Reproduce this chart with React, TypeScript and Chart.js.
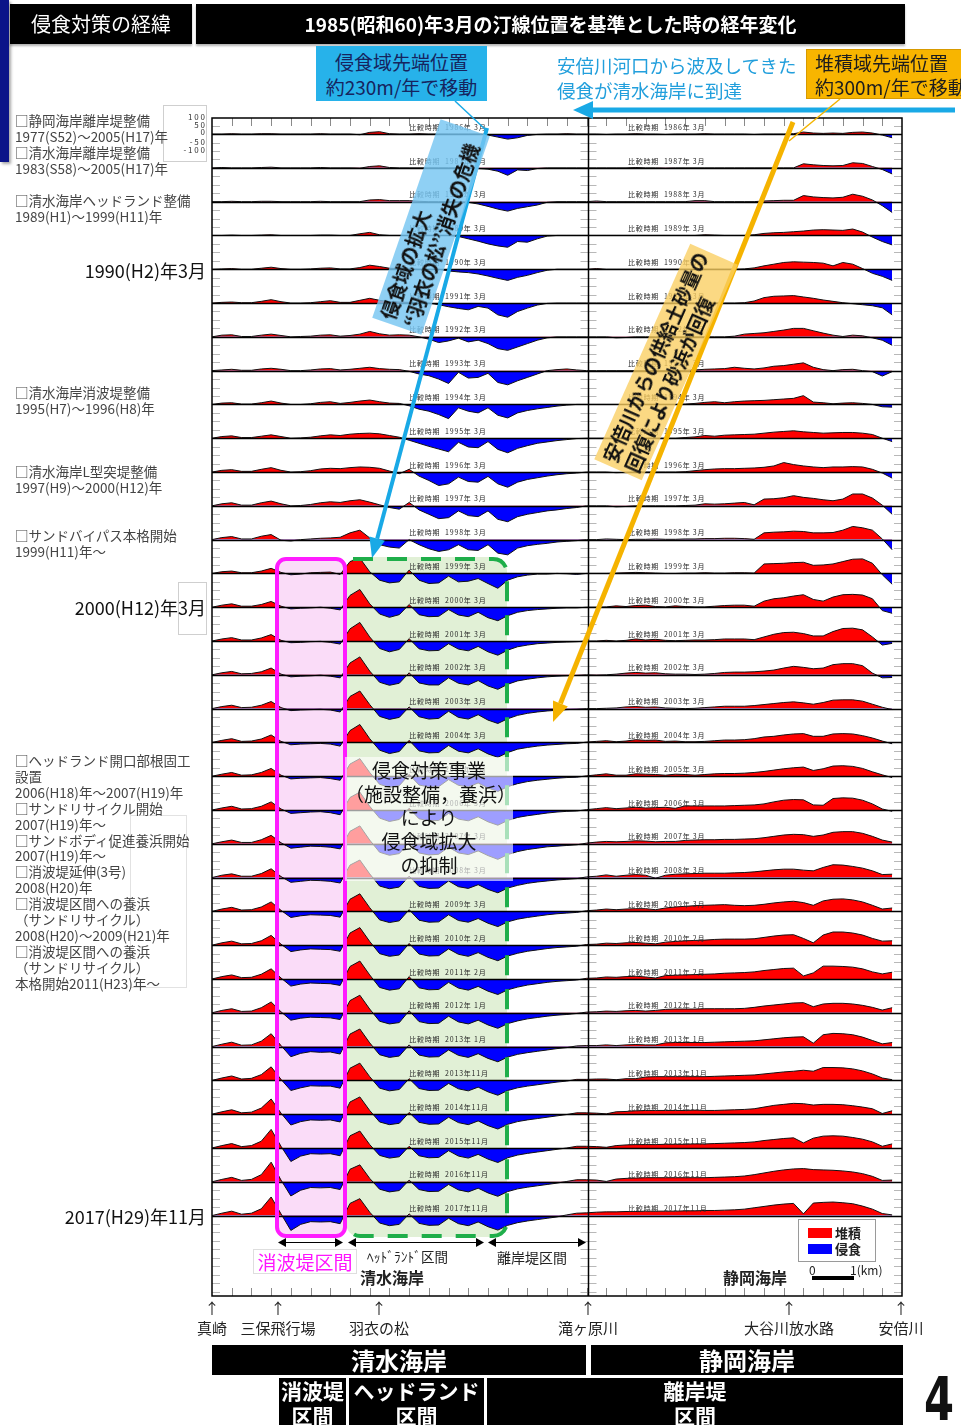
import React, { useEffect, useRef } from 'react';
import { Chart, registerables } from 'chart.js';

Chart.register(...registerables);

// ---------- axis grid (distance index along the coast, 1 tick = 1 unit) ----------
const xShimizu = [0,0.5,1,1.5,2,2.5,3,3.5,4,4.5,5,5.5,6,6.5,7,7.5,8,8.5,9,9.5,10,10.5,11,11.5,12,12.5,13,13.5,14,14.5,15,15.5,16,16.5,17,17.5,18,18.5];
const xShizuoka = [19,19.5,20,20.5,21,21.5,22,22.5,23,23.5,24,24.5,25,25.5,26,26.5,27,27.5,28,28.5,29,29.5,30,30.5,31,31.5,32,32.5,33,33.5,34,34.5];

const compareDates = ['1986年 3月','1987年 3月','1988年 3月','1989年 3月','1990年 3月','1991年 3月','1992年 3月','1993年 3月','1994年 3月','1995年 3月','1996年 3月','1997年 3月','1998年 3月','1999年 3月','2000年 3月','2001年 3月','2002年 3月','2003年 3月','2004年 3月','2005年 3月','2006年 3月','2007年 3月','2008年 3月','2009年 3月','2010年 2月','2011年 2月','2012年 1月','2013年 1月','2013年11月','2014年11月','2015年11月','2016年11月','2017年11月'];

// ---------- shoreline change (m) : Shimizu coast ----------
const s1986 = [0,0,2,0,0,2,2,0,0,0,0,2,0,0,0,-4,10,14,2,0,0,2,0,0,0,0,0,0,-6,-18,-30,-22,-8,-2,0,0,2,0];
const s1987 = [0,2,0,0,0,2,4,0,0,0,0,2,0,0,0,-2,8,12,2,0,0,0,0,0,0,0,0,-4,-8,-20,-44,-12,-16,-4,0,0,0,0];
const s1988 = [0,0,2,0,0,2,2,0,0,0,0,2,0,0,0,0,10,12,6,6,6,2,0,0,0,0,-4,-14,-28,-44,-56,-40,-30,-20,-4,0,0,0];
const s1989 = [0,0,2,0,0,2,4,0,0,0,0,2,2,0,0,10,18,4,0,0,0,0,0,0,0,-6,-20,-34,-50,-62,-70,-36,-40,-20,-4,0,0,0];
const s1990 = [0,2,4,0,0,6,12,4,0,0,2,6,8,2,2,10,24,16,6,4,2,0,0,0,-10,-16,-20,-28,-40,-54,-66,-48,-36,-20,-6,0,0,0];
const s1991 = [0,4,6,2,2,10,20,8,0,0,2,8,14,4,4,16,28,16,8,6,4,0,0,-10,-22,-32,-40,-20,-30,-70,-84,-50,-30,-12,-2,0,0,0];
const s1992 = [0,10,12,2,2,10,16,8,0,2,4,10,12,4,8,16,32,18,10,12,10,0,-14,-34,-24,-8,-30,-20,-40,-70,-80,-60,-40,-20,-6,0,0,0];
const s1993 = [0,4,8,2,2,10,14,8,0,0,4,10,12,4,8,14,20,12,8,6,-4,-20,-30,-50,-76,-10,-44,-40,-16,-70,-84,-60,-40,-20,0,6,10,4];
const s1994 = [0,8,10,2,2,10,20,8,0,0,4,12,16,6,12,20,26,16,8,6,-8,-28,-40,-60,-84,-20,-40,-50,-20,-64,-80,-50,-36,-26,-18,-10,-4,0];
const s1995 = [0,10,14,4,4,12,20,10,0,2,6,14,20,16,24,28,30,26,16,6,-12,-30,-48,-64,-80,-24,-52,-56,-20,-66,-86,-60,-44,-30,-22,-14,-8,-2];
const s1996 = [0,10,14,4,4,16,26,10,0,2,8,18,22,20,26,30,28,22,6,-10,16,-24,-50,-80,-70,-30,-56,-60,-26,-70,-90,-60,-44,-34,-24,-16,-10,-6];
const s1997 = [0,12,18,4,4,18,28,12,0,2,8,18,24,20,30,36,22,6,-10,-20,20,-24,-50,-76,-70,-30,-58,-64,-30,-80,-94,-64,-50,-40,-30,-24,-16,-10];
const s1998 = [0,12,18,4,4,20,30,-4,-8,0,4,8,10,14,40,56,10,-30,-44,-50,0,-30,-54,-70,-60,-30,-60,-64,-30,-80,-90,-50,-36,-28,-22,-14,-10,-6];
const s1999 = [0,10,14,4,4,14,30,6,-8,-4,4,6,8,-6,70,90,10,-40,-56,-50,20,-40,-60,-56,-16,-50,-46,-30,-60,-88,-40,-20,-10,-4,-4,0,-2,-6];
const s2000 = [0,12,20,6,6,16,34,6,-10,-6,-4,0,-6,-16,70,105,20,-40,-60,-44,16,-44,-56,-54,-14,-46,-56,-30,-62,-80,-50,-30,-20,-14,-10,-6,-4,-4];
const s2001 = [0,12,20,6,6,18,38,4,-10,-8,-4,-2,-8,-18,72,110,24,-44,-64,-50,14,-46,-58,-56,-16,-48,-58,-32,-64,-84,-54,-34,-24,-16,-12,-8,-6,-4];
const s2002 = [0,12,20,6,8,18,40,4,-12,-8,-6,-2,-8,-18,70,106,22,-44,-62,-50,12,-48,-60,-60,-18,-50,-60,-34,-66,-86,-56,-36,-26,-18,-12,-8,-6,-4];
const s2003 = [0,12,20,6,8,20,42,6,-12,-8,-6,-4,-8,-20,72,104,24,-46,-64,-52,10,-48,-62,-58,-16,-52,-62,-36,-68,-88,-60,-40,-28,-20,-14,-10,-6,-4];
const s2004 = [0,12,22,6,8,20,44,6,-14,-10,-8,-6,-10,-22,70,106,22,-46,-66,-54,12,-50,-62,-60,-18,-52,-62,-38,-68,-88,-60,-40,-30,-22,-16,-12,-8,-6];
const s2005 = [0,12,22,6,8,22,46,6,-16,-12,-10,-8,-14,-24,72,104,22,-48,-66,-56,10,-52,-64,-62,-20,-54,-64,-40,-70,-90,-62,-44,-32,-24,-18,-12,-8,-6];
const s2006 = [0,12,22,6,8,22,48,6,-20,-16,-12,-10,-16,-28,74,106,22,-48,-68,-56,10,-52,-64,-62,-20,-54,-64,-40,-70,-90,-62,-44,-34,-26,-18,-12,-8,-6];
const s2007 = [0,12,22,8,8,24,50,6,-26,-20,-14,-16,-20,-30,74,106,22,-50,-68,-58,8,-54,-66,-62,-20,-54,-64,-42,-70,-92,-64,-46,-34,-26,-18,-14,-10,-6];
const s2008 = [0,14,22,8,8,24,52,6,-28,-22,-16,-18,-22,-32,74,104,22,-50,-66,-56,8,-52,-64,-62,-20,-54,-64,-42,-70,-90,-62,-46,-34,-26,-20,-14,-10,-6];
const s2009 = [0,14,24,8,10,26,56,6,-36,-26,-20,-22,-24,-34,72,104,22,-50,-66,-56,10,-52,-64,-62,-20,-54,-64,-42,-70,-90,-62,-46,-36,-28,-20,-14,-10,-6];
const s2010 = [0,14,24,8,10,26,58,6,-38,-28,-22,-24,-26,-36,72,104,22,-50,-66,-58,10,-52,-64,-62,-22,-54,-66,-44,-72,-92,-64,-48,-36,-28,-20,-14,-10,-6];
const s2011 = [0,14,24,8,10,28,60,6,-42,-30,-24,-26,-28,-38,74,106,24,-50,-66,-58,14,-52,-64,-62,-20,-54,-66,-44,-72,-92,-64,-48,-36,-28,-20,-14,-10,-6];
const s2012 = [0,14,24,8,10,30,64,6,-44,-32,-26,-28,-30,-40,72,104,22,-50,-66,-58,12,-52,-64,-62,-20,-54,-66,-44,-72,-92,-64,-48,-36,-28,-20,-14,-10,-4];
const s2013a = [0,14,26,8,10,32,76,6,-60,-40,-30,-34,-32,-44,74,104,22,-48,-64,-56,10,-50,-62,-60,-20,-52,-64,-42,-70,-90,-62,-46,-36,-28,-20,-12,-6,4];
const s2013b = [0,14,26,8,12,34,80,6,-60,-44,-32,-34,-34,-46,72,102,22,-46,-62,-54,10,-48,-60,-58,-18,-50,-62,-40,-68,-88,-60,-44,-34,-26,-18,-10,-4,6];
const s2014 = [0,14,26,8,12,36,90,6,-64,-44,-34,-36,-34,-46,72,102,22,-46,-62,-54,10,-48,-60,-58,-18,-50,-62,-40,-68,-88,-60,-44,-34,-26,-18,-10,-2,8];
const s2015 = [0,14,26,8,14,40,110,10,-80,-48,-34,-36,-34,-46,72,100,20,-44,-60,-52,10,-46,-58,-56,-16,-48,-60,-38,-66,-86,-58,-42,-32,-24,-16,-8,0,10];
const s2016 = [0,14,26,8,14,42,116,10,-84,-50,-34,-36,-34,-46,74,100,20,-44,-60,-52,10,-46,-58,-56,-16,-48,-60,-38,-66,-86,-58,-42,-32,-24,-16,-8,2,12];
const s2017 = [0,14,26,8,14,40,110,10,-88,-52,-36,-38,-36,-48,72,100,20,-44,-60,-52,10,-46,-58,-56,-16,-48,-60,-38,-66,-86,-58,-42,-32,-24,-16,-8,4,14];

// ---------- shoreline change (m) : Shizuoka coast ----------
const z1986 = [0,0,-2,0,0,2,0,0,-2,0,0,0,2,0,0,0,0,-2,0,0,0,2,12,6,4,6,4,10,12,6,-6,-22];
const z1987 = [0,0,0,0,0,2,0,0,-2,0,0,0,0,0,0,0,0,0,0,0,0,0,24,18,14,12,14,30,26,8,-10,-36];
const z1988 = [0,4,0,0,0,0,0,0,0,0,0,6,6,0,0,0,0,0,4,6,8,8,36,28,24,22,26,44,32,10,-24,-64];
const z1989 = [0,0,0,0,0,0,0,0,0,0,0,0,4,2,0,0,0,4,12,16,18,22,26,32,34,32,30,38,20,-10,-36,-56];
const z1990 = [0,4,0,0,0,0,0,0,0,0,0,0,0,0,0,0,2,8,20,30,40,44,42,40,36,20,40,30,4,-24,-42,-66];
const z1991 = [0,0,0,0,0,0,0,0,0,0,0,0,0,0,0,0,2,12,32,40,42,44,36,28,18,10,2,-4,-10,-16,-28,-70];
const z1992 = [0,0,0,-6,-4,0,0,0,0,0,0,0,0,0,0,4,16,20,24,32,40,50,50,36,22,10,2,10,6,-6,-20,-50];
const z1993 = [0,0,0,0,0,0,0,0,0,0,2,4,8,10,12,20,14,10,16,26,30,38,46,20,6,0,6,8,0,-6,-32,-6];
const z1994 = [0,0,0,0,0,0,0,0,0,0,2,6,12,16,10,16,20,22,24,28,32,36,52,14,10,4,8,10,6,0,-14,-16];
const z1995 = [0,0,0,0,0,0,0,0,0,0,4,8,16,12,18,20,22,24,30,36,40,44,38,34,30,32,34,34,30,22,0,-20];
const z1996 = [0,0,0,-4,-2,0,0,0,0,0,2,8,14,18,20,20,22,24,28,36,56,44,36,30,26,30,30,32,30,16,-6,-36];
const z1997 = [0,0,0,-6,-4,0,0,0,0,0,2,4,12,10,12,16,20,6,40,42,48,60,50,44,36,30,40,70,70,46,4,-50];
const z1998 = [0,0,4,2,0,2,2,4,2,2,4,4,6,6,8,8,6,2,40,44,46,50,48,40,40,42,56,78,70,56,4,-60];
const z1999 = [0,0,0,2,4,6,4,2,0,0,2,2,4,2,2,4,4,2,56,58,60,64,66,48,50,56,70,84,86,60,-8,-64];
const z2000 = [0,0,2,8,4,10,12,4,2,8,4,2,2,6,10,12,12,6,36,50,56,66,74,46,36,60,74,76,72,50,-20,-36];
const z2001 = [0,0,4,0,4,12,6,10,4,2,4,6,6,8,12,12,12,8,24,40,50,52,44,30,30,56,74,76,66,24,-24,-14];
const z2002 = [0,-2,0,4,10,14,10,12,6,4,4,2,4,8,14,16,16,18,22,28,40,50,44,36,40,60,66,66,54,10,-18,-16];
const z2003 = [0,0,2,4,10,12,8,10,4,2,0,2,6,10,14,14,14,18,24,30,36,40,34,26,36,50,52,52,44,26,8,-6];
const z2004 = [2,6,10,4,8,16,12,14,6,8,4,4,6,10,14,14,16,22,32,36,44,50,52,36,36,50,52,50,40,26,8,-8];
const z2005 = [2,8,14,6,6,14,12,10,6,12,10,6,10,14,16,16,18,22,28,36,44,50,54,34,44,60,62,58,46,26,8,-8];
const z2006 = [2,8,14,8,12,16,12,14,16,10,24,24,24,24,24,26,28,30,36,48,58,62,60,30,28,68,72,70,58,36,6,-8];
const z2007 = [4,10,14,12,14,18,16,12,14,14,20,22,24,24,26,26,28,30,36,44,52,56,54,44,52,68,72,72,62,44,22,10];
const z2008 = [4,8,16,8,14,18,14,-4,14,20,22,24,26,26,26,28,30,34,40,46,50,50,44,40,60,76,74,66,56,40,18,20];
const z2009 = [4,8,14,10,14,16,16,10,20,26,30,34,36,38,40,36,34,36,42,50,56,60,52,36,62,72,74,68,56,36,14,20];
const z2010 = [4,6,12,10,14,16,12,8,18,22,26,28,30,34,36,36,36,38,46,54,60,62,40,14,60,78,78,72,60,40,24,26];
const z2011 = [4,6,12,10,14,16,12,6,20,22,24,26,28,30,34,36,38,42,50,56,62,64,18,36,76,76,74,70,60,42,30,40];
const z2012 = [4,6,10,8,12,14,10,14,20,22,22,22,24,24,24,24,26,32,40,46,52,58,60,36,52,56,56,52,44,32,16,30];
const z2013a = [6,6,10,6,10,12,10,10,22,24,24,24,24,26,28,30,32,34,40,46,52,56,58,20,70,78,76,70,56,36,16,24];
const z2013b = [6,8,8,4,10,10,20,22,22,22,22,22,22,24,26,28,30,32,38,44,50,54,60,54,76,76,74,68,56,38,14,4];
const z2014 = [8,6,2,14,16,20,22,22,22,22,22,24,22,22,24,26,28,32,42,52,58,64,62,54,58,58,56,50,42,32,4,20];
const z2015 = [10,8,4,14,18,20,20,20,22,22,22,24,24,26,28,30,32,36,44,50,56,60,30,58,70,72,70,62,52,36,10,24];
const z2016 = [12,10,2,16,20,22,24,24,24,24,24,24,24,26,28,30,34,42,52,62,70,76,78,72,70,68,64,58,48,32,8,10];
const z2017 = [16,20,22,22,24,24,26,26,26,26,28,28,30,30,32,34,38,46,54,62,68,72,10,74,78,80,76,70,56,38,12,4];

const shimizuRows = [s1986,s1987,s1988,s1989,s1990,s1991,s1992,s1993,s1994,s1995,s1996,s1997,s1998,s1999,s2000,s2001,s2002,s2003,s2004,s2005,s2006,s2007,s2008,s2009,s2010,s2011,s2012,s2013a,s2013b,s2014,s2015,s2016,s2017];
const shizuokaRows = [z1986,z1987,z1988,z1989,z1990,z1991,z1992,z1993,z1994,z1995,z1996,z1997,z1998,z1999,z2000,z2001,z2002,z2003,z2004,z2005,z2006,z2007,z2008,z2009,z2010,z2011,z2012,z2013a,z2013b,z2014,z2015,z2016,z2017];

const ROW_STEP = 200; // m between stacked survey rows
const Y_MAX = 95;
const Y_MIN = -6876;
const X_MAX = 35;
const RIVER_X = 19.07; // 滝ヶ原川 (boundary of the two coasts)

const FONT = '"Noto Sans CJK JP", "Noto Sans", sans-serif';

function rr(ctx: any, x: number, y: number, w: number, h: number, r: number) {
  ctx.beginPath();
  ctx.moveTo(x + r, y);
  ctx.arcTo(x + w, y, x + w, y + h, r);
  ctx.arcTo(x + w, y + h, x, y + h, r);
  ctx.arcTo(x, y + h, x, y, r);
  ctx.arcTo(x, y, x + w, y, r);
  ctx.closePath();
}

function arrow(ctx: any, x1: number, y1: number, x2: number, y2: number, color: string, w: number, head: number, half: number) {
  const a = Math.atan2(y2 - y1, x2 - x1);
  const bx = x2 - head * Math.cos(a);
  const by = y2 - head * Math.sin(a);
  ctx.strokeStyle = color;
  ctx.lineWidth = w;
  ctx.beginPath();
  ctx.moveTo(x1, y1);
  ctx.lineTo(bx, by);
  ctx.stroke();
  ctx.fillStyle = color;
  ctx.beginPath();
  ctx.moveTo(x2, y2);
  ctx.lineTo(bx + half * Math.sin(a), by - half * Math.cos(a));
  ctx.lineTo(bx - half * Math.sin(a), by + half * Math.cos(a));
  ctx.closePath();
  ctx.fill();
}

function span(ctx: any, x1: number, x2: number, y: number) {
  ctx.strokeStyle = '#000';
  ctx.lineWidth = 1;
  ctx.beginPath();
  ctx.moveTo(x1 + 6, y + 0.5);
  ctx.lineTo(x2 - 6, y + 0.5);
  ctx.stroke();
  ctx.fillStyle = '#000';
  ctx.beginPath();
  ctx.moveTo(x1, y + 0.5); ctx.lineTo(x1 + 8, y - 4); ctx.lineTo(x1 + 8, y + 5); ctx.closePath(); ctx.fill();
  ctx.beginPath();
  ctx.moveTo(x2, y + 0.5); ctx.lineTo(x2 - 8, y - 4); ctx.lineTo(x2 - 8, y + 5); ctx.closePath(); ctx.fill();
}

const decorPlugin = {
  id: 'decor',
  beforeDatasetsDraw(chart: any) {
    const ctx = chart.ctx;
    ctx.save();
    ctx.fillStyle = 'rgba(222,238,210,0.9)';
    rr(ctx, 346, 557, 161, 680, 14);
    ctx.fill();
    ctx.fillStyle = '#fadcf8';
    rr(ctx, 277, 559, 68, 677, 9);
    ctx.fill();
    ctx.restore();
  },
  afterDatasetsDraw(chart: any) {
    const ctx = chart.ctx;
    const a = chart.chartArea;
    const xs = chart.scales.x;
    const ys = chart.scales.y;
    const xd = Math.round(xs.getPixelForValue(RIVER_X)) + 0.5;
    ctx.save();

    // minor ticks every 50 m
    ctx.strokeStyle = '#b8b8b8';
    ctx.lineWidth = 1;
    for (let v = 50; v >= Y_MIN; v -= 50) {
      if (v % ROW_STEP === 0 && v <= 0 && v >= -ROW_STEP * (compareDates.length - 1)) continue;
      const py = Math.round(ys.getPixelForValue(v)) + 0.5;
      ctx.beginPath();
      ctx.moveTo(a.left, py); ctx.lineTo(a.left + 8, py);
      ctx.moveTo(a.right - 8, py); ctx.lineTo(a.right, py);
      ctx.moveTo(xd - 8, py); ctx.lineTo(xd + 8, py);
      ctx.stroke();
    }
    // distance ticks on top and bottom
    ctx.strokeStyle = '#8a8a8a';
    for (let t = 1; t < X_MAX; t++) {
      const px = Math.round(xs.getPixelForValue(t)) + 0.5;
      ctx.beginPath();
      ctx.moveTo(px, a.top); ctx.lineTo(px, a.top + 8);
      ctx.moveTo(px, a.bottom - 8); ctx.lineTo(px, a.bottom);
      ctx.stroke();
    }
    // zero lines of every survey
    ctx.strokeStyle = '#000';
    ctx.lineWidth = 1.3;
    compareDates.forEach((_, i) => {
      const py = Math.round(ys.getPixelForValue(-ROW_STEP * i)) + 0.5;
      ctx.beginPath();
      ctx.moveTo(a.left, py);
      ctx.lineTo(a.right, py);
      ctx.stroke();
    });
    // survey labels
    ctx.fillStyle = '#2a2a2a';
    ctx.font = '7px ' + FONT;
    ctx.textBaseline = 'middle';
    if ('letterSpacing' in ctx) ctx.letterSpacing = '0.8px';
    compareDates.forEach((lab, i) => {
      const py = ys.getPixelForValue(-ROW_STEP * i) - 7;
      ctx.fillText('比較時期  ' + lab, xs.getPixelForValue(10.0), py);
      ctx.fillText('比較時期  ' + lab, xs.getPixelForValue(21.1), py);
    });
    if ('letterSpacing' in ctx) ctx.letterSpacing = '0px';

    // frame and boundary
    ctx.strokeStyle = '#000';
    ctx.lineWidth = 1.5;
    ctx.strokeRect(a.left, a.top, a.right - a.left, a.bottom - a.top);
    ctx.beginPath();
    ctx.moveTo(xd, a.top); ctx.lineTo(xd, a.bottom);
    ctx.stroke();

    // pink section
    ctx.strokeStyle = '#ff1cff';
    ctx.lineWidth = 4;
    rr(ctx, 277, 559, 68, 677, 9);
    ctx.stroke();
    // green dashed section
    ctx.strokeStyle = '#1fae4a';
    ctx.lineWidth = 4;
    ctx.setLineDash([20, 14]);
    ctx.beginPath();
    ctx.moveTo(353, 559);
    ctx.lineTo(493, 559);
    ctx.arcTo(507, 559, 507, 573, 14);
    ctx.lineTo(507, 1222);
    ctx.arcTo(507, 1236, 493, 1236, 14);
    ctx.lineTo(360, 1236);
    ctx.arcTo(348, 1236, 348, 1224, 12);
    ctx.stroke();
    ctx.setLineDash([]);

    // section spans
    span(ctx, 278, 343, 1242);
    span(ctx, 348, 484, 1242);
    span(ctx, 488, 586, 1242);

    // erosion front arrows (cyan)
    arrow(ctx, 955, 110, 573, 110, '#19a9e6', 5, 20, 9);
    ctx.strokeStyle = '#19a9e6';
    ctx.lineWidth = 1.5;
    ctx.beginPath(); ctx.moveTo(455, 101); ctx.lineTo(487, 131); ctx.stroke();
    arrow(ctx, 487, 128, 372, 558, '#19a9e6', 4, 20, 8);

    // accretion front arrows (orange)
    ctx.strokeStyle = '#f3b400';
    ctx.lineWidth = 1.5;
    ctx.beginPath(); ctx.moveTo(840, 99); ctx.lineTo(789, 141); ctx.stroke();
    arrow(ctx, 793, 122, 553, 722, '#f5b300', 5, 20, 8);

    ctx.restore();
  },
};

const abs: React.CSSProperties = { position: 'absolute', whiteSpace: 'nowrap', lineHeight: 1 };

const topNotes: [number, string][] = [
  [120, '□静岡海岸離岸堤整備'],
  [136, '1977(S52)～2005(H17)年'],
  [152, '□清水海岸離岸堤整備'],
  [168, '1983(S58)～2005(H17)年'],
  [200, '□清水海岸ヘッドランド整備'],
  [216, '1989(H1)～1999(H11)年'],
  [392, '□清水海岸消波堤整備'],
  [408, '1995(H7)～1996(H8)年'],
  [471, '□清水海岸L型突堤整備'],
  [487, '1997(H9)～2000(H12)年'],
  [535, '□サンドバイパス本格開始'],
  [551, '1999(H11)年～'],
];
const laterMeasures = ['□ヘッドランド開口部根固工', '設置', '2006(H18)年～2007(H19)年', '□サンドリサイクル開始', '2007(H19)年～', '□サンドボディ促進養浜開始', '2007(H19)年～', '□消波堤延伸(3号)', '2008(H20)年', '□消波堤区間への養浜', '（サンドリサイクル）', '2008(H20)～2009(H21)年', '□消波堤区間への養浜', '（サンドリサイクル）', '本格開始2011(H23)年～'];
const yearMarks: [number, string][] = [[270, '1990(H2)年3月'], [607, '2000(H12)年3月'], [1216, '2017(H29)年11月']];
const places: [number, string][] = [[212, '真崎'], [278, '三保飛行場'], [379, '羽衣の松'], [588, '滝ヶ原川'], [789, '大谷川放水路'], [901, '安倍川']];

export default function App() {
  const ref = useRef<HTMLCanvasElement>(null);
  useEffect(() => {
    document.body.style.margin = '0';
    const canvas = ref.current;
    if (!canvas) return;
    const xAll = xShimizu.concat(xShizuoka);
    const datasets = compareDates.map((lab, i) => {
      const base = -ROW_STEP * i;
      const vals = shimizuRows[i].concat(shizuokaRows[i]);
      return {
        label: lab,
        data: xAll.map((x, k) => ({ x, y: base + vals[k] })),
        borderColor: '#111',
        borderWidth: 1,
        pointRadius: 0,
        tension: 0,
        fill: { target: { value: base }, above: '#ff0000', below: '#0000ff' },
      };
    });
    const chart = new Chart(canvas, {
      type: 'line',
      data: { datasets } as any,
      options: {
        animation: false,
        responsive: false,
        maintainAspectRatio: false,
        layout: { padding: { left: 212, top: 118, right: 59, bottom: 129 } },
        scales: {
          x: { type: 'linear', min: 0, max: X_MAX, display: false },
          y: { type: 'linear', min: Y_MIN, max: Y_MAX, display: false },
        },
        plugins: { legend: { display: false }, tooltip: { enabled: false } },
      } as any,
      plugins: [decorPlugin as any],
    });
    return () => chart.destroy();
  }, []);

  return (
    <div style={{ position: 'relative', width: 961, height: 1425, overflow: 'hidden', background: '#fff', fontFamily: FONT }}>
      <canvas ref={ref} width={961} height={1425} style={{ position: 'absolute', left: 0, top: 0, width: 961, height: 1425 }} />

      {/* left accent bar */}
      <div style={{ position: 'absolute', left: 0, top: 0, width: 9, height: 162, background: '#0b1489', boxShadow: '2px 2px 3px rgba(0,0,0,0.35)' }} />

      {/* headers */}
      <div style={{ ...abs, left: 10, top: 4, width: 182, height: 40, background: '#000', color: '#fff', fontSize: 20, lineHeight: '40px', textAlign: 'center', boxShadow: '0 2px 2px rgba(0,0,0,0.3)' }}>侵食対策の経緯</div>
      <div style={{ ...abs, left: 196, top: 4, width: 709, height: 40, background: '#000', color: '#fff', fontSize: 19, fontWeight: 700, lineHeight: '40px', textAlign: 'center', boxShadow: '0 2px 2px rgba(0,0,0,0.3)' }}>1985(昭和60)年3月の汀線位置を基準とした時の経年変化</div>

      {/* callouts */}
      <div style={{ ...abs, left: 316, top: 46, width: 171, height: 55, background: '#27b2ea', color: '#16245e', fontSize: 19, lineHeight: '25px', textAlign: 'center', paddingTop: 3, boxSizing: 'border-box' }}>侵食域先端位置<br />約230m/年で移動</div>
      <div style={{ ...abs, left: 557, top: 53, color: '#229fdc', fontSize: 18.5, lineHeight: '25px' }}>安倍川河口から波及してきた<br />侵食が清水海岸に到達</div>
      <div style={{ ...abs, left: 806, top: 49, width: 160, height: 50, background: '#f8b500', color: '#1d1d1d', fontSize: 19, lineHeight: '24px', paddingLeft: 8, paddingTop: 1, boxSizing: 'border-box', border: '1px solid #d79a00' }}>堆積域先端位置<br />約300m/年で移動</div>

      {/* scale box */}
      <div style={{ position: 'absolute', left: 163, top: 105, width: 44, height: 57, border: '1px solid #cfcfcf', boxSizing: 'border-box' }} />
      {[[117, '1 0 0'], [125, '5 0'], [132, '0'], [142, '- 5 0'], [150, '- 1 0 0']].map(([y, t], i) => (
        <div key={'sc' + i} style={{ ...abs, right: 961 - 205, top: (y as number) - 4, fontSize: 8, color: '#333' }}>{t}</div>
      ))}

      {/* left notes */}
      {topNotes.map(([y, t], i) => (
        <div key={'tn' + i} style={{ ...abs, left: 15, top: y - 8, fontSize: 13.5, lineHeight: '16px', color: '#444' }}>{t}</div>
      ))}
      <div style={{ position: 'absolute', left: 130, top: 815, width: 55, height: 171, border: '1px solid #e2e2e2' }} />
      {laterMeasures.map((t, i) => (
        <div key={'lm' + i} style={{ ...abs, left: 15, top: 760 + i * 15.9 - 8, fontSize: 13.5, lineHeight: '16px', color: '#444' }}>{t}</div>
      ))}
      <div style={{ position: 'absolute', left: 178, top: 582, width: 27, height: 51, border: '1px solid #cfcfcf' }} />
      {yearMarks.map(([y, t], i) => (
        <div key={'ym' + i} style={{ ...abs, right: 961 - 206, top: y - 11, fontSize: 18, lineHeight: '22px', color: '#111' }}>{t}</div>
      ))}

      {/* rotated labels */}
      <div style={{ ...abs, left: 431 - 105, top: 227 - 26, width: 210, height: 52, transform: 'rotate(-71deg)', background: 'rgba(118,198,242,0.82)', fontSize: 19, fontWeight: 700, lineHeight: '24px', padding: '2px 0 0 4px', boxSizing: 'border-box', color: '#111' }}>侵食域の拡大<br />“羽衣の松”消失の危機</div>
      <div style={{ ...abs, left: 666 - 118, top: 362 - 26, width: 236, height: 52, transform: 'rotate(-66deg)', background: 'rgba(250,206,96,0.78)', fontSize: 19, fontWeight: 700, lineHeight: '24px', padding: '2px 0 0 4px', boxSizing: 'border-box', color: '#111' }}>安倍川からの供給土砂量の<br />回復により砂浜が回復</div>

      {/* measures text box */}
      <div style={{ ...abs, left: 345, top: 757, width: 168, height: 124, background: 'rgba(255,255,255,0.62)', textAlign: 'center', fontSize: 19, lineHeight: '23.7px', color: '#111', paddingTop: 1, boxSizing: 'border-box' }}>侵食対策事業<br />（施設整備，養浜）<br />により<br />侵食域拡大<br />の抑制</div>

      {/* section labels inside plot */}
      <div style={{ ...abs, left: 253, top: 1249, width: 104, height: 25, border: '1px solid #dedede', boxSizing: 'border-box', color: '#ff14ff', fontSize: 19, lineHeight: '23px', textAlign: 'center' }}>消波堤区間</div>
      <div style={{ ...abs, left: 367, top: 1250, fontSize: 13.5, color: '#222' }}>ﾍｯﾄﾞﾗﾝﾄﾞ区間</div>
      <div style={{ ...abs, left: 497, top: 1250, fontSize: 14, color: '#222' }}>離岸堤区間</div>
      <div style={{ ...abs, left: 360, top: 1269, fontSize: 16, fontWeight: 700, color: '#222' }}>清水海岸</div>
      <div style={{ ...abs, left: 723, top: 1269, fontSize: 16, fontWeight: 700, color: '#222' }}>静岡海岸</div>

      {/* legend */}
      <div style={{ position: 'absolute', left: 798, top: 1219, width: 78, height: 43, border: '1px solid #9a9a9a', background: '#fff', boxSizing: 'border-box' }} />
      <div style={{ position: 'absolute', left: 808, top: 1228, width: 24, height: 10, background: '#ff0000' }} />
      <div style={{ position: 'absolute', left: 808, top: 1244, width: 24, height: 10, background: '#0000ff' }} />
      <div style={{ ...abs, left: 835, top: 1226, fontSize: 13, fontWeight: 700, color: '#222' }}>堆積</div>
      <div style={{ ...abs, left: 835, top: 1242, fontSize: 13, fontWeight: 700, color: '#222' }}>侵食</div>

      {/* scale bar */}
      <div style={{ ...abs, left: 809, top: 1264, fontSize: 12, color: '#222' }}>0</div>
      <div style={{ position: 'absolute', left: 812, top: 1276, width: 42, height: 4, background: '#000' }} />
      <div style={{ ...abs, left: 850, top: 1264, fontSize: 12, color: '#222' }}>1(km)</div>

      {/* places */}
      {places.map(([x, t], i) => (
        <React.Fragment key={'pl' + i}>
          <div style={{ ...abs, left: x - 30, width: 60, top: 1300, fontSize: 15, textAlign: 'center', color: '#222' }}>↑</div>
          <div style={{ ...abs, left: x - 60, width: 120, top: 1320, fontSize: 15, textAlign: 'center', color: '#222' }}>{t}</div>
        </React.Fragment>
      ))}

      {/* bottom bars */}
      <div style={{ ...abs, left: 212, top: 1345, width: 374, height: 30, background: '#000', color: '#fff', fontSize: 24, fontWeight: 700, lineHeight: '30px', textAlign: 'center' }}>清水海岸</div>
      <div style={{ ...abs, left: 591, top: 1345, width: 312, height: 30, background: '#000', color: '#fff', fontSize: 24, fontWeight: 700, lineHeight: '30px', textAlign: 'center' }}>静岡海岸</div>
      <div style={{ ...abs, left: 279, top: 1378, width: 67, height: 47, background: '#000', color: '#fff', fontSize: 21, fontWeight: 700, lineHeight: '25px', textAlign: 'center', paddingTop: 0 }}>消波堤<br />区間</div>
      <div style={{ ...abs, left: 349, top: 1378, width: 135, height: 47, background: '#000', color: '#fff', fontSize: 21, fontWeight: 700, lineHeight: '25px', textAlign: 'center' }}>ヘッドランド<br />区間</div>
      <div style={{ ...abs, left: 487, top: 1378, width: 416, height: 47, background: '#000', color: '#fff', fontSize: 21, fontWeight: 700, lineHeight: '25px', textAlign: 'center' }}>離岸堤<br />区間</div>

      {/* page number */}
      <div style={{ ...abs, left: 924, top: 1369, fontSize: 60, lineHeight: '60px', fontWeight: 700, fontFamily: '"DejaVu Sans", sans-serif', color: '#111', transform: 'scaleX(0.72)', transformOrigin: 'left top' }}>4</div>
    </div>
  );
}
